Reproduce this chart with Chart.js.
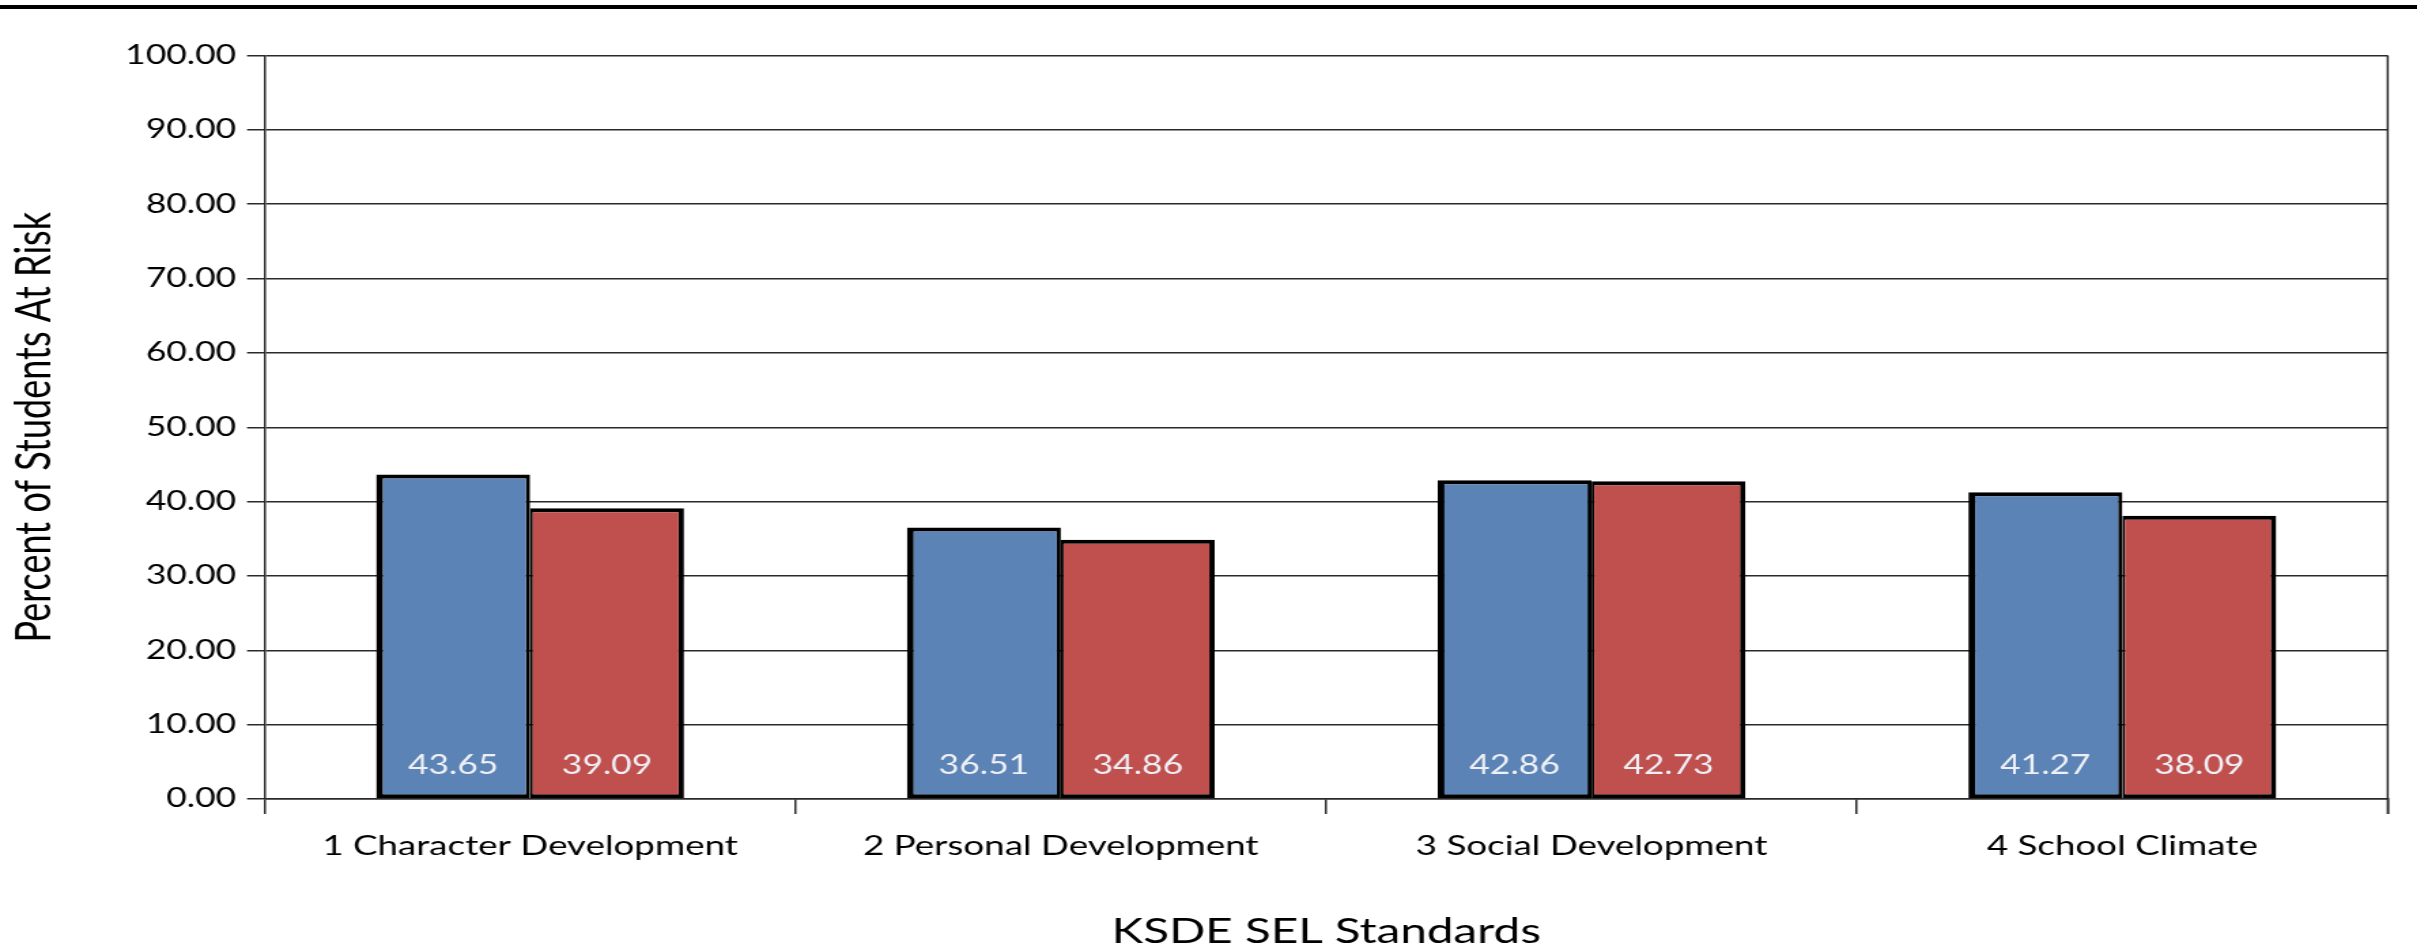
<!DOCTYPE html>
<html>
<head>
<meta charset="utf-8">
<title>Percent of Students At Risk - KSDE SEL Standards</title>
<script src="https://cdn.jsdelivr.net/npm/chart.js@4/dist/chart.umd.min.js"></script>
<style>
  html, body { margin: 0; padding: 0; background: #fff; overflow: hidden; }
  /* the original picture is stretched sideways, so the canvas is too */
  #chart { display: block; width: 1777px; height: 952px; transform: scaleX(1.3602); transform-origin: 0 0; }
</style>
</head>
<body>
<canvas id="chart" width="1777" height="952"></canvas>
<script>
const categories = [
  "1 Character Development",
  "2 Personal Development",
  "3 Social Development",
  "4 School Climate",
];
const seriesBlue = [43.65, 36.51, 42.86, 41.27];
const seriesRed = [39.09, 34.86, 42.73, 38.09];
const yMin = 0;
const yMax = 100;
const yStep = 10;

const axisColor = "#2a2a2a";
const fontFamily = "Lato, 'Open Sans', sans-serif";

// values written inside the bars, near the bottom
const barValueLabels = {
  id: "barValueLabels",
  afterDatasetsDraw(chart) {
    const ctx = chart.ctx;
    ctx.save();
    ctx.font = "26px " + fontFamily;
    ctx.fillStyle = "#eef0f6";
    ctx.textAlign = "center";
    ctx.textBaseline = "middle";
    chart.data.datasets.forEach((ds, i) => {
      chart.getDatasetMeta(i).data.forEach((bar, j) => {
        ctx.fillText(ds.data[j].toFixed(2), bar.x, bar.base - 33);
      });
    });
    ctx.restore();
  },
};

// thick rule at the very top and the right edge of the plot box
const frameLines = {
  id: "frameLines",
  beforeDraw(chart) {
    const ctx = chart.ctx;
    ctx.save();
    ctx.fillStyle = "#000";
    ctx.fillRect(0, 5, chart.width, 4);
    ctx.restore();
  },
  afterDraw(chart) {
    const { ctx, chartArea } = chart;
    ctx.save();
    ctx.strokeStyle = axisColor;
    ctx.lineWidth = 1.5;
    ctx.beginPath();
    ctx.moveTo(chartArea.right, chartArea.top);
    ctx.lineTo(chartArea.right, chartArea.bottom + 15);
    ctx.stroke();
    ctx.restore();
  },
};

new Chart(document.getElementById("chart"), {
  type: "bar",
  data: {
    labels: categories,
    datasets: [
      {
        label: "Series 1",
        data: seriesBlue,
        backgroundColor: "#5b83b6",
        borderColor: "#000",
        borderWidth: { left: 5, top: 4, right: 3, bottom: 4 },
        borderSkipped: false,
        categoryPercentage: 0.58,
        barPercentage: 1.0,
      },
      {
        label: "Series 2",
        data: seriesRed,
        backgroundColor: "#c0504e",
        borderColor: "#000",
        borderWidth: { left: 2, top: 4, right: 4, bottom: 4 },
        borderSkipped: false,
        categoryPercentage: 0.58,
        barPercentage: 1.0,
      },
    ],
  },
  options: {
    responsive: false,
    animation: false,
    devicePixelRatio: 1,
    layout: { padding: { top: 55.5, right: 21.6, left: 0, bottom: 0 } },
    plugins: {
      legend: { display: false },
      tooltip: { enabled: false },
    },
    scales: {
      x: {
        grid: {
          offset: true,
          drawOnChartArea: false,
          drawTicks: true,
          tickLength: 15,
          color: axisColor,
          lineWidth: 1.5,
        },
        border: { display: true, color: axisColor, width: 1.5 },
        ticks: {
          color: "#000",
          padding: 16,
          font: { family: fontFamily, size: 27 },
          maxRotation: 0,
        },
        title: {
          display: true,
          text: "KSDE SEL Standards",
          color: "#000",
          font: { family: fontFamily, size: 35, lineHeight: 1 },
          padding: { top: 0, bottom: 3 },
        },
        afterFit(scale) {
          scale.height = 952 - 799;
        },
      },
      y: {
        min: yMin,
        max: yMax,
        ticks: {
          stepSize: yStep,
          color: "#000",
          padding: 8,
          font: { family: fontFamily, size: 26 },
          callback: (v) => Number(v).toFixed(2),
        },
        grid: {
          color: axisColor,
          lineWidth: 1.5,
          tickLength: 13,
        },
        border: { display: true, color: axisColor, width: 1.5 },
        title: {
          display: true,
          text: "Percent of Students At Risk",
          color: "#000",
          font: { family: fontFamily, size: 36, lineHeight: 1.1 },
          padding: { top: 6, bottom: 0 },
        },
        afterFit(scale) {
          scale.width = 194.6;
        },
      },
    },
  },
  plugins: [barValueLabels, frameLines],
});
</script>
</body>
</html>
